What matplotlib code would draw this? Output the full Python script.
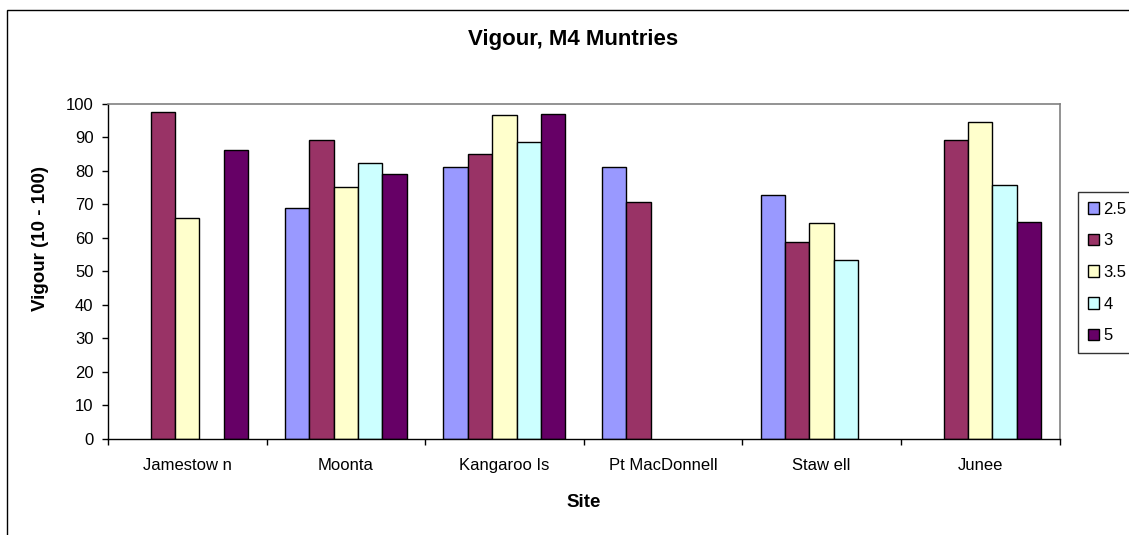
import numpy as np
import matplotlib
matplotlib.use("Agg")
import matplotlib.pyplot as plt
from matplotlib.patches import Rectangle

plt.rcParams['font.family'] = ['Liberation Sans', 'DejaVu Sans']

sites = ["Jamestow n", "Moonta", "Kangaroo Is", "Pt MacDonnell", "Staw ell", "Junee"]
series_names = ["2.5", "3", "3.5", "4", "5"]
nan = np.nan
v_2_5 = [nan, 68.8, 81.1, 81.1, 72.6, nan]
v_3 = [97.5, 89.0, 85.0, 70.6, 58.7, 89.0]
v_3_5 = [65.8, 75.1, 96.6, nan, 64.3, 94.5]
v_4 = [nan, 82.2, 88.5, nan, 53.3, 75.7]
v_5 = [86.0, 79.1, 97.0, nan, nan, 64.8]
series_values = [v_2_5, v_3, v_3_5, v_4, v_5]
colors = ["#9999FF", "#993366", "#FFFFCC", "#CCFFFF", "#660066"]

W, H = 1129, 535
fig = plt.figure(figsize=(W / 100, H / 100), dpi=100)
fig.patch.set_facecolor("white")

# chart-area border (runs off the right and bottom edges)
fig.add_artist(Rectangle((7 / W, -0.05), 1.2, 1 - 10 / H + 0.05,
                         transform=fig.transFigure, fill=False,
                         edgecolor="black", linewidth=1.0))

left, right, top, bottom = 108, 1059.5, 103.5, 439
ax = fig.add_axes([left / W, 1 - bottom / H, (right - left) / W, (bottom - top) / H])

n_series = len(series_names)
bw = 1 / 6.5  # Excel gap width 150%
x = np.arange(len(sites))
handles = []
for j, (name, vals, col) in enumerate(zip(series_names, series_values, colors)):
    vals = np.array(vals, dtype=float)
    centers = x + 0.5 + (j - (n_series - 1) / 2) * bw
    mask = ~np.isnan(vals)
    b = ax.bar(centers[mask], vals[mask], width=bw, color=col,
               edgecolor="black", linewidth=1.0, label=name)
    handles.append(b)

ax.set_xlim(0, len(sites))
ax.set_ylim(0, 100)
ax.set_yticks(np.arange(0, 101, 10))
ax.set_xticks(np.arange(0, len(sites) + 1))
ax.set_xticklabels([])
ax.set_xticks(x + 0.5, minor=True)
ax.set_xticklabels(sites, minor=True)
ax.tick_params(axis="x", which="major", direction="out", length=4, width=1, color="black")
ax.tick_params(axis="x", which="minor", length=0, pad=14, labelsize=12)
ax.tick_params(axis="y", direction="out", length=4, width=1, pad=6.5, labelsize=12)

for s in ("top", "right"):
    ax.spines[s].set_color("#808080")
    ax.spines[s].set_linewidth(1.2)
for s in ("left", "bottom"):
    ax.spines[s].set_color("black")
    ax.spines[s].set_linewidth(1.0)

ax.set_ylabel("Vigour (10 - 100)", fontsize=13.5, fontweight="bold")
ax.yaxis.set_label_coords(-0.062, 0.599)
ax.set_xlabel("Site", fontsize=13.5, fontweight="bold")
ax.xaxis.set_label_coords(0.5003, -0.163)

fig.text(573 / W, 1 - 39 / H, "Vigour, M4 Muntries", ha="center", va="center",
         fontsize=16, fontweight="bold")

leg = fig.legend(handles=handles, labels=series_names, loc="upper left",
                 bbox_to_anchor=(1077.7 / W, 1 - 191.7 / H), fontsize=12,
                 frameon=True, fancybox=False, shadow=False, borderpad=0.6,
                 labelspacing=1.0, handlelength=0.7, handleheight=0.7,
                 handletextpad=0.25, borderaxespad=0)
leg.get_frame().set_edgecolor("black")
leg.get_frame().set_linewidth(1.0)

fig.savefig("out.png", dpi=100)
